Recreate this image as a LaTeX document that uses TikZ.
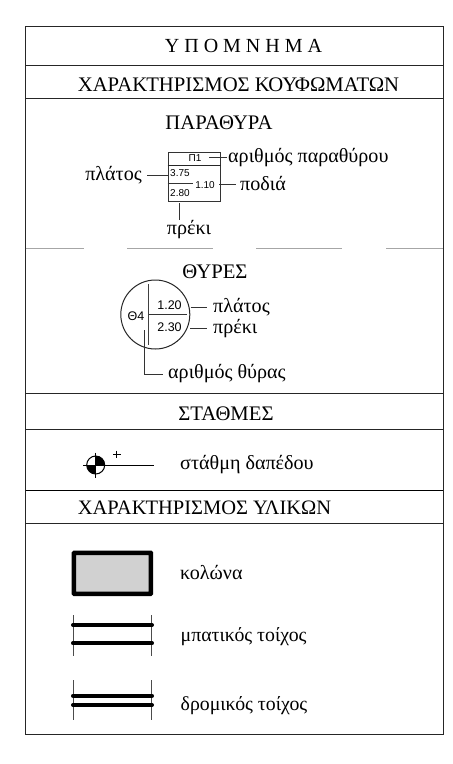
\documentclass[tikz,border=0pt]{standalone}
\usepackage{fontspec}
\setmainfont{Liberation Serif}
\setsansfont{Liberation Sans}
\tikzset{
  lbl/.style={inner sep=0pt,font=\fontsize{20.1}{22}\selectfont},
  head/.style={inner sep=0pt,font=\fontsize{20.7}{22}\selectfont},
  small/.style={inner sep=0pt,font=\sffamily\fontsize{10}{12}\selectfont},
  doorsmall/.style={inner sep=0pt,font=\sffamily\fontsize{12.5}{13}\selectfont},
  rule/.style={line width=1pt,black!85},
  thin/.style={line width=1pt,black!80},
  wall/.style={line width=4pt,line cap=round},
  tick/.style={line width=1pt,black!70},
  gap/.style={line width=1pt,black!35}
}
\begin{document}
\begin{tikzpicture}[x=1pt,y=-1pt]
\useasboundingbox (0,0) rectangle (453,764);
\fill[white] (0,0) rectangle (453,764);
% frame
\coordinate (fnw) at (25.5,26);
\coordinate (fse) at (443,734);
\draw[rule] (fnw) rectangle (fse);
\foreach \yy in {65,98.5,393,429.5,523}{\draw[rule] (25.5,\yy) -- (443,\yy);}
\draw[line width=1.4pt] (25.5,490.5) -- (443,490.5);
% dashed separator
\foreach \xa/\xb in {25.5/84,127/213,256/342,386/443}{\draw[gap] (\xa,248) -- (\xb,248);}
% headings
\node[head,font=\fontsize{20}{22}\selectfont] (h1) at (243.5,45.5) {Υ Π Ο Μ Ν Η Μ Α};
\node[head] (h2) at (238.5,85) {ΧΑΡΑΚΤΗΡΙΣΜΟΣ ΚΟΥΦΩΜΑΤΩΝ};
\node[head] (h3) at (219,123) {ΠΑΡΑΘΥΡΑ};
\node[head] (h4) at (215,272) {ΘΥΡΕΣ};
\node[head] (h5) at (226,414) {ΣΤΑΘΜΕΣ};
\node[head,font=\fontsize{20.5}{22}\selectfont] (h6) at (204.5,508) {ΧΑΡΑΚΤΗΡΙΣΜΟΣ ΥΛΙΚΩΝ};
% window symbol
\node[draw,line width=1pt,black!80,minimum width=52pt,minimum height=49.5pt,inner sep=0pt] (win) at (194,177) {};
\draw[line width=1.5pt,black!85] (win.west |- 0,165.7) -- (win.east |- 0,165.7);
\draw[thin] (win.west |- 0,183) -- (193,183);
\node[small] (p1) at (195,158) {Π1};
\node[small,anchor=west] (w1) at (170,173) {3.75};
\node[small,anchor=west] (w2) at (170,193.5) {2.80};
\node[small,anchor=east] (w3) at (215,185) {1.10};
\node[lbl,anchor=west] (nwin) at (228,157.5) {αριθμός παραθύρου};
\node[lbl,anchor=east] (wid) at (142,175) {πλάτος};
\node[lbl,anchor=west] (pod) at (240,183.5) {ποδιά};
\node[lbl] (pre) at (189,229.5) {πρέκι};
\coordinate (p1e) at (209,157);
\draw[thin] (p1e) -- (227,157);
\coordinate (wida) at (147,175);
\draw[thin] (wida) -- (win.west |- wida);
\coordinate (poda) at (219,184);
\draw[thin] (poda) -- (236,184);
\coordinate (prea) at (179,203);
\draw[thin] (prea) -- (179,220);
% door symbol
\node[draw,circle,line width=1pt,black!85,minimum size=69pt,inner sep=0pt] (door) at (155.3,314.5) {};
\draw[line width=1.4pt,black!75] (148.7,284) -- (148.7,345);
\draw[thin] (148.7,314.3) -- (187,314.3);
\node[doorsmall] (d4) at (136,316) {Θ4};
\node[doorsmall] (d1) at (169.5,305) {1.20};
\node[doorsmall] (d2) at (169.5,327) {2.30};
\node[lbl,anchor=west] (dw) at (213,307.5) {πλάτος};
\node[lbl,anchor=west] (dp) at (213,329) {πρέκι};
\node[lbl,anchor=west] (dn) at (168,374) {αριθμός θύρας};
\draw[thin] (190.5,307.3) -- (207,307.3);
\draw[thin] (190,328) -- (207,328);
\draw[thin] (144.3,330) -- (144.3,374) -- (163,374);
% level symbol
\coordinate (lv) at (95.7,465);
\fill (lv) -- (95.7,456) arc[start angle=90,end angle=0,radius=9pt] -- cycle;
\fill (lv) -- (86.7,465) arc[start angle=180,end angle=270,radius=9pt] -- cycle;
\draw[line width=1pt] (lv) circle (9pt);
\draw[line width=1pt] (83,465) -- (154,465);
\draw[line width=1pt] (95.7,452.7) -- (95.7,477.5);
\draw[line width=1.2pt] (113,454.5) -- (120.5,454.5) (116.7,450.7) -- (116.7,458.3);
\node[lbl,anchor=west] (lvt) at (180,464.5) {στάθμη δαπέδου};
% materials
\node[draw,line width=4.5pt,fill=black!18,minimum width=77pt,minimum height=41pt,inner sep=0pt,rounded corners=0.5pt] (col) at (112.4,573.3) {};
\node[lbl,anchor=west] (colt) at (180,572.5) {κολώνα};
\foreach \xx in {73.7,151}{\draw[tick] (\xx,615) -- (\xx,655.7);}
\draw[wall] (73,625) -- (152,625);
\draw[wall] (73,643.3) -- (152,643.3);
\node[lbl,font=\fontsize{19.8}{22}\selectfont,anchor=west] (mp) at (180.5,637) {μπατικός τοίχος};
\foreach \xx in {73.7,151}{\draw[tick] (\xx,680) -- (\xx,720);}
\draw[wall] (73,695.7) -- (152,695.7);
\draw[wall] (73,705) -- (152,705);
\node[lbl,font=\fontsize{19.8}{22}\selectfont,anchor=west] (dr) at (180.5,706) {δρομικός τοίχος};
\end{tikzpicture}
\end{document}
